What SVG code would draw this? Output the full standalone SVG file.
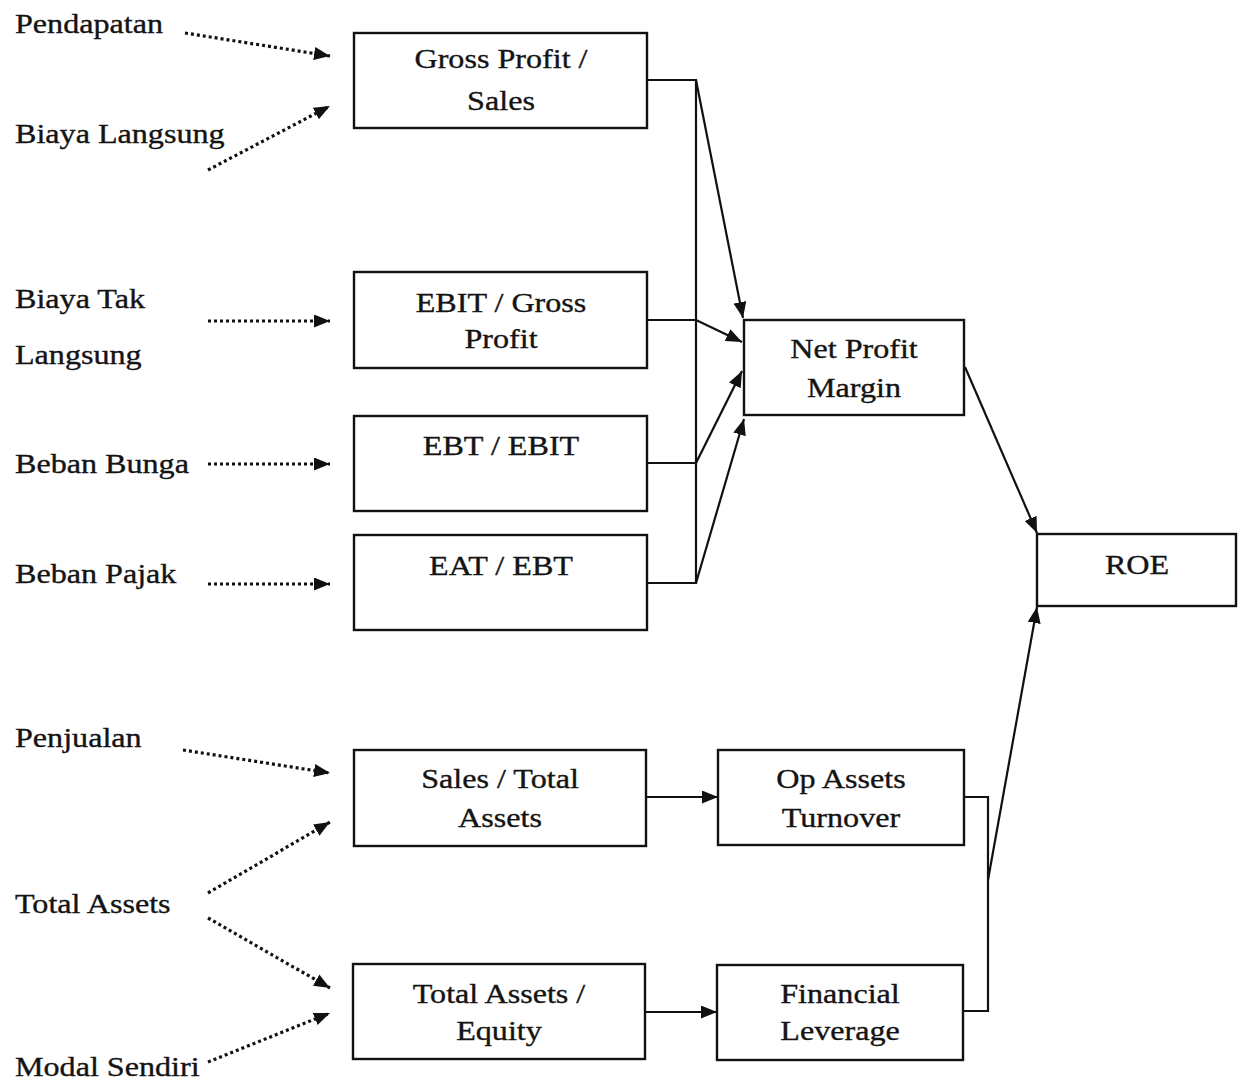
<svg xmlns="http://www.w3.org/2000/svg" width="1242" height="1080" viewBox="0 0 1242 1080">
  <style>
    .box { fill: #ffffff; stroke: #111111; stroke-width: 2.4; }
    .lbl { font-family: "Liberation Serif", "Times New Roman", serif; font-size: 27px; fill: #141414; stroke: #141414; stroke-width: 0.35; }
    .mid { text-anchor: middle; }
    .wire { fill: none; stroke: #111111; stroke-width: 2.2; }
    .arrow { fill: none; stroke: #111111; stroke-width: 2.2; marker-end: url(#head); }
    .dots { fill: none; stroke: #111111; stroke-width: 3.2; stroke-dasharray: 3 3; marker-end: url(#head); }
  </style>
  <defs>
    <marker id="head" viewBox="0 0 16 13" refX="16" refY="6.5" markerWidth="16" markerHeight="13" markerUnits="userSpaceOnUse" orient="auto">
      <path d="M0,0 L16,6.5 L0,13 Z" fill="#111111"/>
    </marker>
  </defs>

  <rect width="1242" height="1080" fill="#ffffff"/>

  <!-- input items on the left -->
  <g id="inputs">
    <text class="lbl" transform="translate(15,33) scale(1.19 1)">Pendapatan</text>
    <text class="lbl" transform="translate(15,143) scale(1.19 1)">Biaya Langsung</text>
    <text class="lbl" transform="translate(15,308) scale(1.19 1)">Biaya Tak</text>
    <text class="lbl" transform="translate(15,364) scale(1.19 1)">Langsung</text>
    <text class="lbl" transform="translate(15,473) scale(1.19 1)">Beban Bunga</text>
    <text class="lbl" transform="translate(15,583) scale(1.19 1)">Beban Pajak</text>
    <text class="lbl" transform="translate(15,747) scale(1.19 1)">Penjualan</text>
    <text class="lbl" transform="translate(15,913) scale(1.19 1)">Total Assets</text>
    <text class="lbl" transform="translate(15,1076) scale(1.19 1)">Modal Sendiri</text>
  </g>

  <!-- ratio boxes -->
  <g id="gross-profit-sales">
    <rect class="box" x="354" y="33" width="293" height="95"/>
    <text class="lbl mid" transform="translate(501,68) scale(1.19 1)">Gross Profit /</text>
    <text class="lbl mid" transform="translate(501,110) scale(1.19 1)">Sales</text>
  </g>
  <g id="ebit-gross-profit">
    <rect class="box" x="354" y="272" width="293" height="96"/>
    <text class="lbl mid" transform="translate(501,312) scale(1.19 1)">EBIT / Gross</text>
    <text class="lbl mid" transform="translate(501,348) scale(1.19 1)">Profit</text>
  </g>
  <g id="ebt-ebit">
    <rect class="box" x="354" y="416" width="293" height="95"/>
    <text class="lbl mid" transform="translate(501,455) scale(1.19 1)">EBT / EBIT</text>
  </g>
  <g id="eat-ebt">
    <rect class="box" x="354" y="535" width="293" height="95"/>
    <text class="lbl mid" transform="translate(501,575) scale(1.19 1)">EAT / EBT</text>
  </g>
  <g id="sales-total-assets">
    <rect class="box" x="354" y="750" width="292" height="96"/>
    <text class="lbl mid" transform="translate(500,788) scale(1.19 1)">Sales / Total</text>
    <text class="lbl mid" transform="translate(500,827) scale(1.19 1)">Assets</text>
  </g>
  <g id="total-assets-equity">
    <rect class="box" x="353" y="964" width="292" height="95"/>
    <text class="lbl mid" transform="translate(499,1003) scale(1.19 1)">Total Assets /</text>
    <text class="lbl mid" transform="translate(499,1040) scale(1.19 1)">Equity</text>
  </g>

  <!-- summary ratios -->
  <g id="net-profit-margin">
    <rect class="box" x="744" y="320" width="220" height="95"/>
    <text class="lbl mid" transform="translate(854,358) scale(1.19 1)">Net Profit</text>
    <text class="lbl mid" transform="translate(854,397) scale(1.19 1)">Margin</text>
  </g>
  <g id="op-assets-turnover">
    <rect class="box" x="718" y="750" width="246" height="95"/>
    <text class="lbl mid" transform="translate(841,788) scale(1.19 1)">Op Assets</text>
    <text class="lbl mid" transform="translate(841,827) scale(1.19 1)">Turnover</text>
  </g>
  <g id="financial-leverage">
    <rect class="box" x="717" y="965" width="246" height="95"/>
    <text class="lbl mid" transform="translate(840,1003) scale(1.19 1)">Financial</text>
    <text class="lbl mid" transform="translate(840,1040) scale(1.19 1)">Leverage</text>
  </g>
  <g id="roe">
    <rect class="box" x="1037" y="534" width="199" height="72"/>
    <text class="lbl mid" transform="translate(1137,574) scale(1.19 1)">ROE</text>
  </g>

  <!-- connectors -->
  <g id="connectors">
    <!-- dotted inputs -->
    <path class="dots" d="M185,33 L330,56"/>
    <path class="dots" d="M208,170 L330,106"/>
    <path class="dots" d="M208,321 L330,321"/>
    <path class="dots" d="M208,464 L330,464"/>
    <path class="dots" d="M208,584 L330,584"/>
    <path class="dots" d="M183,750 L330,773"/>
    <path class="dots" d="M208,893 L330,822"/>
    <path class="dots" d="M208,918 L330,988"/>
    <path class="dots" d="M208,1062 L330,1013"/>

    <!-- profit ratios to net profit margin -->
    <path class="wire" d="M647,80 H696 V583 H647"/>
    <path class="wire" d="M647,320 H696"/>
    <path class="wire" d="M647,463 H696"/>
    <path class="arrow" d="M696,80 L743,318"/>
    <path class="arrow" d="M696,320 L742,342"/>
    <path class="arrow" d="M696,463 L742,371"/>
    <path class="arrow" d="M696,583 L744,419"/>

    <!-- net profit margin to ROE -->
    <path class="arrow" d="M965,367 L1037,533"/>

    <!-- asset ratios -->
    <path class="arrow" d="M646,797 H718"/>
    <path class="arrow" d="M645,1012 H717"/>
    <path class="wire" d="M964,797 H988 V1011 H963"/>
    <path class="arrow" d="M988,880 L1037,607"/>
  </g>
</svg>
